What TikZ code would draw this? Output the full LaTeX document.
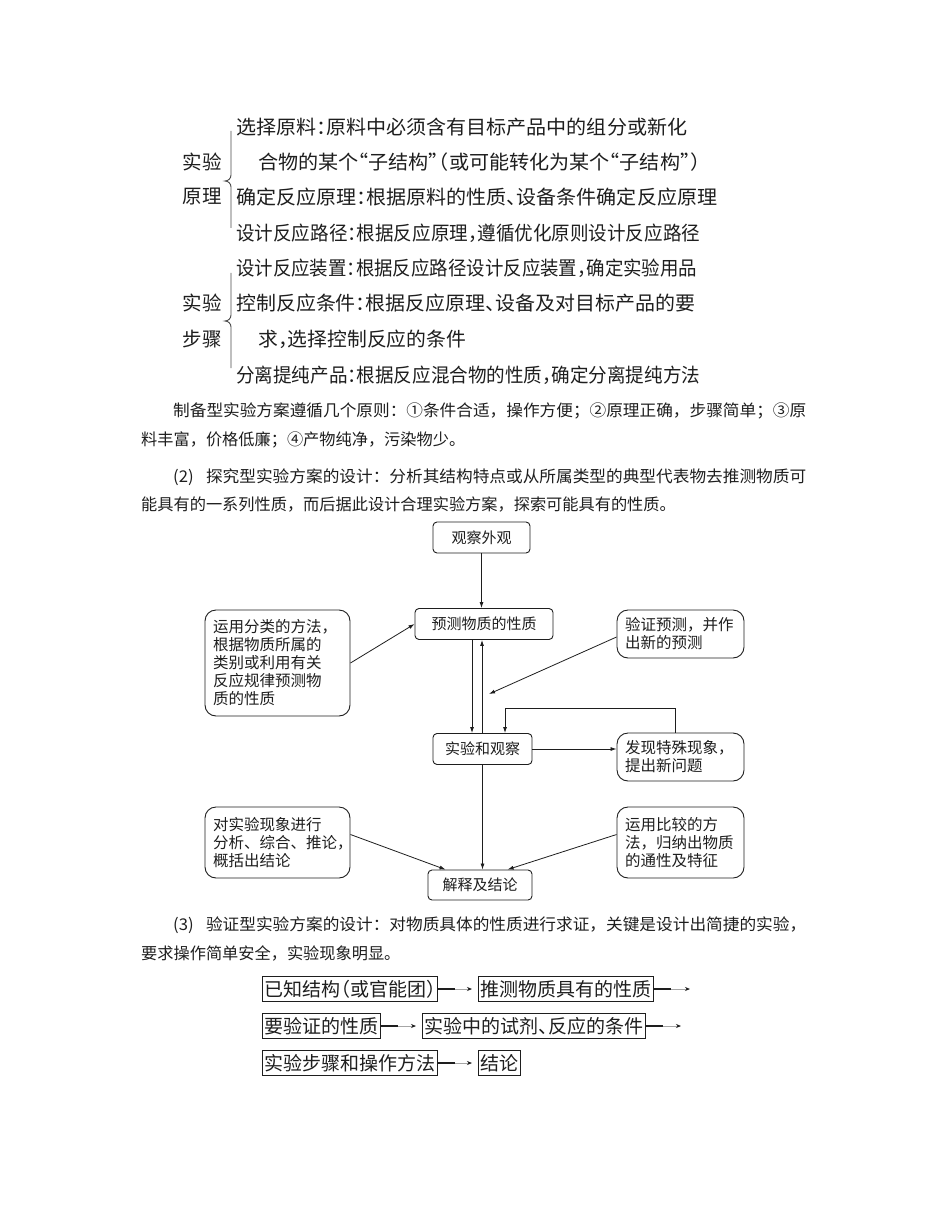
\documentclass[tikz,border=0pt]{standalone}
\usepackage{graphicx}
\usepackage{fontspec}
\setmainfont{Noto Sans CJK SC}
\newfontfamily\cjk{Noto Sans CJK SC}
\newfontfamily\cjkh{Noto Sans CJK SC}[RawFeature=+halt]
\usetikzlibrary{arrows.meta,calc}
\definecolor{ink}{HTML}{1E1E1E}
\newcommand\fitw[2]{\resizebox{#1pt}{\height}{#2}}
\tikzset{
  toptext/.style={anchor=west, inner sep=0pt, text=ink, font=\cjkh\fontsize{19.5}{20}\selectfont},
  sidelabel/.style={inner sep=0pt, text=ink, font=\cjk\fontsize{19.5}{20}\selectfont},
  para/.style={anchor=west, inner sep=0pt, text=ink, font=\cjk\fontsize{16.2}{18}\selectfont},
  cbox/.style={draw=ink, rounded corners=4pt, line width=0.9pt, minimum height=31pt, inner sep=0pt, text=ink, font=\cjk\fontsize{15}{17}\selectfont},
  sbox/.style={draw=ink, rounded corners=11pt, line width=0.9pt, inner xsep=8pt, inner ysep=0pt, align=left, text=ink, font=\cjk\fontsize{15.5}{18}\selectfont},
  arr/.style={draw=ink, line width=0.8pt, -{Latex[length=6pt,width=4pt]}},
  bbox/.style={draw=ink, line width=1.2pt, anchor=west, minimum height=25pt, inner xsep=2pt, inner ysep=0pt, text=ink, font=\cjkh\fontsize{19}{20}\selectfont},
  bracel/.style={draw=ink!80, line width=0.9pt},
  thickpart/.style={draw=ink, line width=2.2pt},
  thinpart/.style={draw=gray!70, line width=0.9pt, -{Stealth[length=5pt,width=4pt,color=ink]}}
}
\newcommand\bArrow[3]{%
  \draw[thickpart] (#1.east) -- ++(17,0) coordinate (#3);
  \draw[thinpart] (#3) -- ($(#2.west)+(-6,0)$);}
\begin{document}
\begin{tikzpicture}[x=1pt,y=-1pt]
\useasboundingbox (0,0) rectangle (950,1230);
\fill[white] (0,0) rectangle (950,1230);

% ---------- top section ----------
\node[sidelabel] (l1) at (202,162) {实验};
\node[sidelabel] (l2) at (202,197) {原理};
\draw[bracel] (231,131) -- (231,175) to[out=-90,in=0] (225,181) to[out=0,in=90] (231,187) -- (231,228);
\node[toptext] (t1) at (236,127) {\fitw{451}{选择原料：原料中必须含有目标产品中的组分或新化}};
\node[toptext] (t2) at (258,162) {\fitw{442}{合物的某个“子结构”（或可能转化为某个“子结构”）}};
\node[toptext] (t3) at (236,197) {\fitw{481}{确定反应原理：根据原料的性质、设备条件确定反应原理}};
\node[toptext] (t4) at (236,233) {\fitw{464}{设计反应路径：根据反应原理，遵循优化原则设计反应路径}};

\node[sidelabel] (l3) at (202,303) {实验};
\node[sidelabel] (l4) at (202,339) {步骤};
\draw[bracel] (231,273) -- (231,315) to[out=-90,in=0] (225,321) to[out=0,in=90] (231,327) -- (231,368);
\node[toptext] (t5) at (236,268) {\fitw{461}{设计反应装置：根据反应路径设计反应装置，确定实验用品}};
\node[toptext] (t6) at (236,303) {\fitw{459}{控制反应条件：根据反应原理、设备及对目标产品的要}};
\node[toptext] (t7) at (258,339) {\fitw{208}{求，选择控制反应的条件}};
\node[toptext] (t8) at (236,375) {\fitw{464}{分离提纯产品：根据反应混合物的性质，确定分离提纯方法}};

% ---------- paragraphs ----------
\node[para] (p1) at (173,411) {\fitw{633}{制备型实验方案遵循几个原则：①条件合适，操作方便；②原理正确，步骤简单；③原}};
\node[para] (p2) at (141,440) {料丰富，价格低廉；④产物纯净，污染物少。};
\node[para] (p3) at (173,477) {\fitw{633}{(2)\hspace{12pt}探究型实验方案的设计：分析其结构特点或从所属类型的典型代表物去推测物质可}};
\node[para] (p4) at (141,505) {能具有的一系列性质，而后据此设计合理实验方案，探索可能具有的性质。};

% ---------- flowchart ----------
\node[cbox, minimum width=97pt] (obs) at (481.5,537.5) {观察外观};
\node[cbox, minimum width=138pt] (pre) at (484,624) {预测物质的性质};
\node[cbox, minimum width=99pt] (exp) at (482.5,749) {实验和观察};
\node[cbox, minimum width=104pt, minimum height=30pt] (con) at (480,885) {解释及结论};

\node[sbox, text width=129pt, minimum height=106pt] (cls) at (277.5,663)
  {运用分类的方法，\\根据物质所属的\\类别或利用有关\\反应规律预测物\\质的性质};
\node[sbox, text width=111pt, minimum height=48pt] (ver) at (680.5,634)
  {验证预测，并作\\出新的预测};
\node[sbox, text width=111pt, minimum height=48pt] (dis) at (680.5,757)
  {发现特殊现象，\\提出新问题};
\node[sbox, text width=129pt, minimum height=71pt] (ana) at (277.5,842.5)
  {对实验现象进行\\分析、综合、推论，\\概括出结论};
\node[sbox, text width=111pt, minimum height=71pt] (cmp) at (680.5,842.5)
  {运用比较的方\\法，归纳出物质\\的通性及特征};

\draw[arr] (obs.south) -- (obs.south |- pre.north);
\draw[arr] (cls.east) -- (pre.west);
\coordinate (dn) at ($(pre.south)+(-12,0)$);
\draw[arr] (dn) -- (dn |- exp.north);
\coordinate (up) at ($(exp.north)+(-0.5,0)$);
\draw[arr] (up) -- (up |- pre.south);
\coordinate (vt) at (489,694);
\draw[arr] ($(ver.west)+(0,3)$) -- (vt);
\coordinate (lp) at (505,708);
\coordinate (lr) at ($(dis.north)+(-5,0)$);
\draw[arr] (lr) |- (lp) -- (lp |- exp.north);
\draw[arr] (exp.east) -- (dis.west |- exp.east);
\draw[arr] (exp.south) -- (exp.south |- con.north);
\draw[arr] ($(ana.east)+(0,-8)$) -- ($(con.north west)+(18,0)$);
\draw[arr] ($(cmp.west)+(0,-8)$) -- ($(con.north west)+(80,0)$);

% ---------- paragraph (3) ----------
\node[para] (p5) at (173,925) {\fitw{633}{(3)\hspace{12pt}验证型实验方案的设计：对物质具体的性质进行求证，关键是设计出简捷的实验，}};
\node[para] (p6) at (141,953) {要求操作简单安全，实验现象明显。};

% ---------- bottom boxes ----------
\node[bbox] (a1) at (262,989) {已知结构（或官能团）};
\node[bbox] (a2) at (478,989) {推测物质具有的性质};
\coordinate (a3) at (690,989);
\node[bbox] (b1) at (262,1026) {要验证的性质};
\node[bbox] (b2) at (422,1026) {实验中的试剂、反应的条件};
\coordinate (b3) at (681,1026);
\node[bbox] (c1) at (262,1063) {实验步骤和操作方法};
\node[bbox] (c2) at (478,1063) {结论};

\bArrow{a1}{a2}{m1}
\draw[thickpart] (a2.east) -- ++(17,0) coordinate (m2);
\draw[thinpart] (m2) -- (a3);
\bArrow{b1}{b2}{m3}
\draw[thickpart] (b2.east) -- ++(17,0) coordinate (m4);
\draw[thinpart] (m4) -- (b3);
\bArrow{c1}{c2}{m5}
\end{tikzpicture}
\end{document}
